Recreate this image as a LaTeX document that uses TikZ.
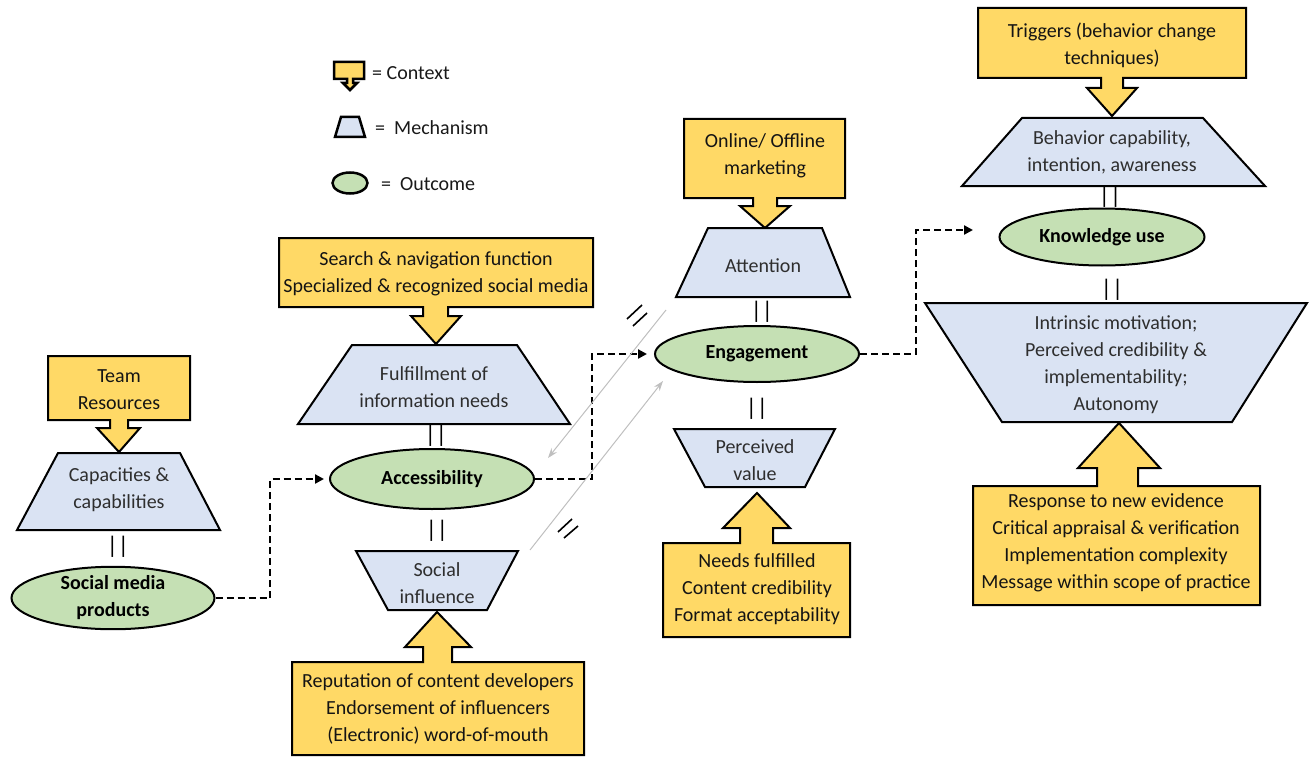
\documentclass[tikz,border=0pt]{standalone}
\usepackage{fontspec}
\setmainfont{Carlito}
\usetikzlibrary{shapes.geometric,arrows.meta}
\definecolor{ctxfill}{HTML}{FFD966}
\definecolor{mechfill}{HTML}{DAE3F3}
\definecolor{outfill}{HTML}{C5E0B4}
\begin{document}
\begin{tikzpicture}[x=1pt,y=-1pt,
  ctx/.style={draw=black,line width=2pt,fill=ctxfill,line join=miter},
  mech/.style={draw=black,line width=2pt,fill=mechfill,line join=miter},
  outc/.style={draw=black,line width=2pt,fill=outfill,ellipse,inner sep=0pt,
    font=\fontsize{20}{27}\selectfont\bfseries,align=center},
  ctxtxt/.style={font=\fontsize{20}{27}\selectfont,align=center,inner sep=0pt,text=black!92},
  mtxt/.style={font=\fontsize{20}{27}\selectfont,align=center,inner sep=0pt,text=black!82},
  legtxt/.style={font=\fontsize{20}{22}\selectfont,anchor=west,inner sep=0pt,text=black!90},
  eqs/.style={font=\fontsize{24}{24}\selectfont,inner sep=0pt},
  flow/.style={line width=2.2pt,dash pattern=on 7pt off 4pt,-{Triangle[length=9pt,width=9pt]}},
  back/.style={draw=black!25,line width=1pt,-{Stealth[length=10pt,width=7pt]}},
  slash/.style={line width=1.6pt}
]
\useasboundingbox (0,0) rectangle (1309,757);

% ---------- legend ----------
\draw[ctx,line width=2.5pt] (334,62) -- (364,62) -- (364,79) -- (353,79) -- (353,83) -- (357,83) -- (350,90) -- (343,83) -- (347,83) -- (347,79) -- (334,79) -- cycle;
\node[legtxt] (lgc) at (372,73) {= Context};
\draw[mech,line width=2.5pt] (341,117) -- (359,117) -- (365,137) -- (335,137) -- cycle;
\node[legtxt] (lgm) at (375,128) {=\ \ Mechanism};
\node[outc,line width=2.5pt,minimum width=35pt,minimum height=21pt] (lgo) at (350,183) {};
\node[legtxt] (lgot) at (381,184) {=\ \ Outcome};

% ---------- context callouts ----------
\draw[ctx] (48,356) -- (190,356) -- (190,420) -- (128,420) -- (128,428) -- (140,428) -- (119,452) -- (97,428) -- (110,428) -- (110,420) -- (48,420) -- cycle;
\node[ctxtxt] (team) at (119,390) {Team\\Resources};

\draw[ctx] (279,238) -- (593,238) -- (593,307) -- (448,307) -- (448,316) -- (461,316) -- (436,344) -- (411,316) -- (423,316) -- (423,307) -- (279,307) -- cycle;
\node[ctxtxt] (search) at (436,274) {Search \& navigation function\\Specialized \& recognized social media};

\draw[ctx] (684,119) -- (845,119) -- (845,198) -- (777,198) -- (777,206) -- (790,206) -- (765,228) -- (740,206) -- (753,206) -- (753,198) -- (684,198) -- cycle;
\node[ctxtxt] (online) at (765,156) {Online/ Offline\\marketing};

\draw[ctx] (978,8) -- (1246,8) -- (1246,78) -- (1123,78) -- (1123,88) -- (1137,88) -- (1112,116) -- (1087,88) -- (1101,88) -- (1101,78) -- (978,78) -- cycle;
\node[ctxtxt] (trig) at (1112,45) {Triggers (behavior change\\techniques)};

\draw[ctx] (292,662) -- (423,662) -- (423,647) -- (405,647) -- (437,612) -- (471,647) -- (452,647) -- (452,662) -- (584,662) -- (584,755) -- (292,755) -- cycle;
\node[ctxtxt] (repu) at (438,709) {Reputation of content developers\\Endorsement of influencers\\(Electronic) word-of-mouth};

\draw[ctx] (663,543) -- (740,543) -- (740,528) -- (723,528) -- (757,493) -- (790,528) -- (773,528) -- (773,543) -- (850,543) -- (850,637) -- (663,637) -- cycle;
\node[ctxtxt] (needs) at (757,589) {Needs fulfilled\\Content credibility\\Format acceptability};

\draw[ctx] (973,486) -- (1097,486) -- (1097,468) -- (1078,468) -- (1119,423) -- (1160,468) -- (1138,468) -- (1138,486) -- (1260,486) -- (1260,605) -- (973,605) -- cycle;
\node[ctxtxt] (resp) at (1116,543) {Response to new evidence\\Critical appraisal \& verification\\Implementation complexity\\Message within scope of practice};

% ---------- mechanisms ----------
\draw[mech] (58,453) -- (180,453) -- (220,530) -- (17,530) -- cycle;
\node[mtxt] (capa) at (119,490) {Capacities \&\\capabilities};

\draw[mech] (352,345) -- (517,345) -- (570,424) -- (298,424) -- cycle;
\node[mtxt] (fulf) at (434,387) {Fulfillment of\\information needs};

\draw[mech] (356,551) -- (518,551) -- (487,610) -- (388,610) -- cycle;
\node[mtxt] (socinf) at (437,583) {Social\\influence};

\draw[mech] (708,228) -- (822,228) -- (850,297) -- (676,297) -- cycle;
\node[mtxt] (atten) at (763,266) {Attention};

\draw[mech] (674,429) -- (835,429) -- (805,487) -- (705,487) -- cycle;
\node[mtxt] (perc) at (755,460) {Perceived\\value};

\draw[mech] (1022,118) -- (1203,118) -- (1265,186) -- (962,186) -- cycle;
\node[mtxt] (behav) at (1112,152) {Behavior capability,\\intention, awareness};

\draw[mech] (925,303) -- (1307,303) -- (1232,422) -- (1002,422) -- cycle;
\node[mtxt] (intr) at (1116,365) {Intrinsic motivation;\\Perceived credibility \&\\implementability;\\Autonomy};

% ---------- outcomes ----------
\node[outc,minimum width=203pt,minimum height=62pt] (smp) at (113,598) {Social media\\products};
\node[outc,minimum width=204pt,minimum height=60pt] (acc) at (432,479) {Accessibility};
\node[outc,minimum width=204pt,minimum height=56pt] (eng) at (757,354) {Engagement};
\node[outc,minimum width=205pt,minimum height=57pt] (know) at (1102,237) {Knowledge use};

% ---------- equality marks ----------
\node[eqs] (e1) at (118,547) {||};
\node[eqs] (e2) at (436,436) {||};
\node[eqs] (e3) at (437,531) {||};
\node[eqs] (e4) at (762,312) {||};
\node[eqs] (e5) at (757,409) {||};
\node[eqs] (e6) at (1110,197) {||};
\node[eqs] (e7) at (1112,290) {||};

% ---------- flow connectors ----------
\draw[flow,shorten >=5pt] (smp.east) -- (270,598) |- (acc.west);
\draw[flow,shorten >=7pt] (acc.east) -- (592,479) |- (eng.west);
\coordinate (kin) at (973,230);
\draw[flow] (eng.east) -- (916,354) |- (kin);

% ---------- feedback arrows ----------
\coordinate (b1s) at (666,310);
\coordinate (b1e) at (548,458);
\coordinate (b2s) at (530,550);
\coordinate (b2e) at (663,381);
\draw[back] (b1s) -- (b1e);
\draw[back] (b2s) -- (b2e);
\draw[slash] (627,319) -- (642,305);
\draw[slash] (633,326) -- (647,313);
\draw[slash] (558,532) -- (572,519);
\draw[slash] (564,538) -- (578,526);
\end{tikzpicture}
\end{document}
